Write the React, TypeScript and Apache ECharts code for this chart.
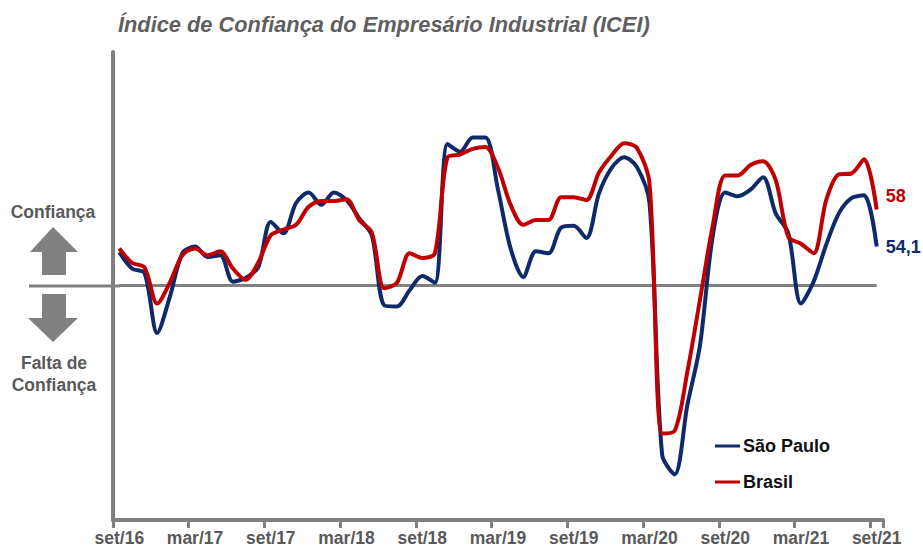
import React, { useEffect, useRef } from "react";
import * as echarts from "echarts";

const months = [
  "set/16","out/16","nov/16","dez/16","jan/17","fev/17","mar/17","abr/17","mai/17","jun/17","jul/17","ago/17",
  "set/17","out/17","nov/17","dez/17","jan/18","fev/18","mar/18","abr/18","mai/18","jun/18","jul/18","ago/18",
  "set/18","out/18","nov/18","dez/18","jan/19","fev/19","mar/19","abr/19","mai/19","jun/19","jul/19","ago/19",
  "set/19","out/19","nov/19","dez/19","jan/20","fev/20","mar/20","abr/20","mai/20","jun/20","jul/20","ago/20",
  "set/20","out/20","nov/20","dez/20","jan/21","fev/21","mar/21","abr/21","mai/21","jun/21","jul/21","ago/21",
  "set/21",
];
const saoPaulo = [
  53.5,51.8,51.3,45.0,48.8,53.4,54.1,53.0,53.2,50.4,50.8,51.9,
  56.7,55.5,58.7,59.8,58.5,59.8,59.0,57.1,55.3,47.9,47.8,49.5,
  51.0,50.3,64.9,64.1,65.6,65.6,60.1,53.9,50.9,53.6,53.4,56.1,
  56.3,55.0,59.7,62.4,63.5,62.5,58.7,32.2,30.1,37.4,43.7,55.1,
  59.8,59.4,60.1,61.4,57.6,55.5,48.1,50.4,54.3,57.6,59.2,59.5,
  54.1,
];
const brasil = [
  53.9,52.4,51.9,48.1,50.3,53.2,53.9,53.2,53.6,51.8,50.6,52.4,
  55.3,55.9,56.4,58.3,58.9,58.9,59.1,56.9,55.6,49.7,50.3,53.4,
  52.9,53.4,63.5,63.8,64.4,64.6,62.4,58.5,56.4,56.9,56.9,59.3,
  59.3,59.0,61.9,63.7,65.0,64.5,60.8,34.4,34.7,40.9,48.5,56.2,
  61.6,61.6,62.7,63.1,61.1,55.1,54.4,53.4,59.0,61.7,61.8,63.3,
  58,
];
const FONT = '"Liberation Sans", Arial, sans-serif';
const GRAY = "#808080";
const TEXT = "#595959";
const BLUE = "#0F2A6B";
const RED = "#C00000";

export default function App() {
  const ref = useRef<HTMLDivElement>(null);
  useEffect(() => {
    const chart = echarts.init(ref.current!, null, { renderer: "svg" });
    chart.setOption({
      animation: false,
      backgroundColor: "#fff",
      title: {
        text: "Índice de Confiança do Empresário Industrial (ICEI)",
        left: 118,
        top: 13,
        padding: 0,
        textStyle: { fontFamily: FONT, fontSize: 21.8, fontWeight: "bold", fontStyle: "italic", color: "#5F5F5F" },
      },
      legend: {
        orient: "vertical",
        left: 715,
        top: 437,
        padding: 0,
        itemGap: 18,
        itemWidth: 25,
        itemHeight: 3,
        icon: "rect",
        data: ["São Paulo", "Brasil"],
        textStyle: { fontFamily: FONT, fontSize: 18, fontWeight: "bold", color: "#111111", padding: [0, 0, 0, -2] },
      },
      grid: { left: 113, top: 52, width: 770, height: 468, containLabel: false },
      xAxis: {
        type: "category",
        data: months,
        boundaryGap: true,
        axisLine: { show: true, lineStyle: { color: GRAY, width: 4 } },
        axisTick: { show: true, interval: 5, length: 8, lineStyle: { color: GRAY, width: 3 } },
        axisLabel: { interval: 5, margin: 9, fontFamily: FONT, fontSize: 17.5, fontWeight: "bold", color: TEXT, showMinLabel: true, showMaxLabel: true },
        splitLine: { show: false },
      },
      yAxis: {
        type: "value",
        min: 25.3,
        max: 74.6,
        axisLine: { show: true, lineStyle: { color: GRAY, width: 4 } },
        axisTick: { show: false },
        axisLabel: { show: false },
        splitLine: { show: false },
      },
      series: [
        {
          name: "São Paulo",
          type: "line",
          data: saoPaulo,
          smooth: 0.3,
          showSymbol: false,
          symbol: "none",
          lineStyle: { color: BLUE, width: 4 },
          itemStyle: { color: BLUE },
          markLine: {
            silent: true,
            symbol: "none",
            label: { show: false },
            lineStyle: { color: GRAY, width: 3, type: "solid" },
            data: [[{ xAxis: 0, yAxis: 50 }, { xAxis: 60, yAxis: 50 }]],
            z: 1,
          },
          endLabel: { show: true, formatter: "54,1", distance: 9, fontFamily: FONT, fontSize: 18, fontWeight: "bold", color: BLUE },
          z: 3,
        },
        {
          name: "Brasil",
          type: "line",
          data: brasil,
          smooth: 0.3,
          showSymbol: false,
          symbol: "none",
          lineStyle: { color: RED, width: 4 },
          itemStyle: { color: RED },
          endLabel: { show: true, formatter: "58", offset: [0, -14], distance: 9, fontFamily: FONT, fontSize: 18, fontWeight: "bold", color: RED },
          z: 4,
        },
      ],
      graphic: [
        { type: "line", shape: { x1: 29, y1: 286, x2: 120, y2: 286 }, style: { stroke: GRAY, lineWidth: 3 } },
        { type: "text", x: 53, y: 212, style: { text: "Confiança", align: "center", verticalAlign: "middle", font: `bold 17.5px ${FONT}`, fill: TEXT } },
        { type: "polygon", shape: { points: [[53, 227], [78, 252], [66, 252], [66, 275], [42, 275], [42, 252], [30, 252]] }, style: { fill: GRAY } },
        { type: "polygon", shape: { points: [[42, 294], [66, 294], [66, 318], [78, 318], [53, 342], [28, 318], [42, 318]] }, style: { fill: GRAY } },
        { type: "text", x: 54, y: 363, style: { text: "Falta de", align: "center", verticalAlign: "middle", font: `bold 17.5px ${FONT}`, fill: TEXT } },
        { type: "text", x: 54, y: 385, style: { text: "Confiança", align: "center", verticalAlign: "middle", font: `bold 17.5px ${FONT}`, fill: TEXT } },
      ],
    });
    return () => chart.dispose();
  }, []);
  return <div ref={ref} style={{ position: "fixed", left: 0, top: 0, width: 923, height: 549, background: "#fff" }} />;
}
